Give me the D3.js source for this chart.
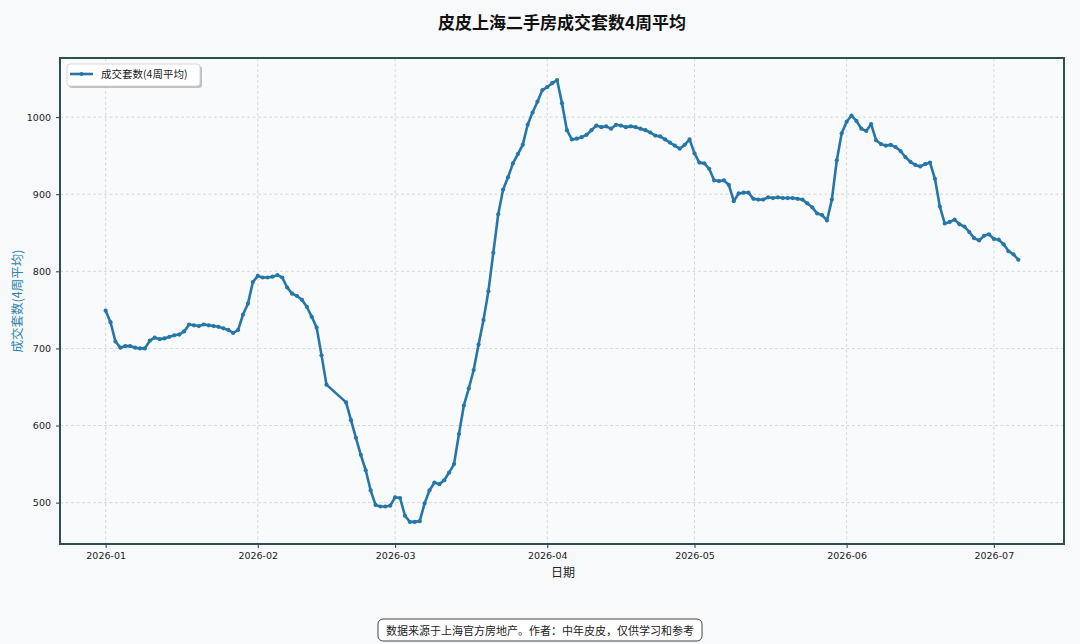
<!DOCTYPE html>
<html>
<head>
<meta charset="utf-8">
<script src="https://cdn.jsdelivr.net/npm/d3@7"></script>
<style>
  html, body { margin: 0; padding: 0; background: #f7f9fb; }
  svg { display: block; }
</style>
</head>
<body>
<svg id="chart" width="1080" height="644"></svg>
<script>
// ---- data ----
const title = "皮皮上海二手房成交套数4周平均";
const seriesName = "成交套数(4周平均)";
const yLabel = "成交套数(4周平均)";
const xLabel = "日期";
const footnote = "数据来源于上海官方房地产。作者：中年皮皮，仅供学习和参考";

const janDays = [1,2,3,4,5,6,7,8,9,10,11,12,13,14,15,16,17,18,19,20,21,22,23,24,25,26,27,28,29,30,31];
const janValues = [749,734,709,701,703,703,701,700,700,710,714,712,713,715,717,718,722,731,730,729,731,730,729,728,726,724,720,724,744,758,786];
const febDays = [1,2,3,4,5,6,7,8,9,10,11,12,13,14,15,19,20,21,22,23,24,25,26,27,28];
const febValues = [794,792,792,793,795,792,779,771,768,763,754,741,727,691,653,630,607,584,562,542,516,497,495,495,496];
const marDays = [1,2,3,4,5,6,7,8,9,10,11,12,13,14,15,16,17,18,19,20,21,22,23,24,25,26,27,28,29,30,31];
const marValues = [507,506,483,475,475,476,499,516,526,524,529,539,550,589,626,648,672,705,737,774,824,874,906,922,940,952,964,990,1006,1020,1035];
const aprDays = [1,2,3,4,5,6,7,8,9,10,11,12,13,14,15,16,17,18,19,20,21,22,23,24,25,26,27,28,29,30];
const aprValues = [1039,1044,1048,1018,983,971,972,974,977,983,989,987,988,985,990,989,987,988,987,985,983,980,976,975,971,967,963,959,964,971];
const mayDays = [1,2,3,4,5,6,7,8,9,10,11,12,13,14,15,16,17,18,19,20,21,22,23,24,25,26,27,28,29,30,31];
const mayValues = [953,941,940,933,918,917,918,912,891,901,902,902,894,893,893,896,895,896,895,895,895,894,893,888,883,875,873,866,893,944,979];
const junDays = [1,2,3,4,5,6,7,8,9,10,11,12,13,14,15,16,17,18,19,20,21,22,23,24,25,26,27,28,29,30];
const junValues = [994,1002,995,985,982,991,970,965,963,964,961,956,948,942,938,936,939,941,920,884,862,864,867,861,858,851,843,840,846,848];
const julDays = [1,2,3,4,5,6];
const julValues = [842,841,835,826,822,815];

const yTicks = [500,600,700,800,900,1000];
const xTickMonths = ["2026-01","2026-02","2026-03","2026-04","2026-05","2026-06","2026-07"];

// ---- build points ----
const months = [
  [1, janDays, janValues], [2, febDays, febValues], [3, marDays, marValues],
  [4, aprDays, aprValues], [5, mayDays, mayValues], [6, junDays, junValues],
  [7, julDays, julValues]
];
const points = [];
months.forEach(([m, days, vals]) => {
  days.forEach((d, i) => points.push({ date: new Date(Date.UTC(2026, m - 1, d)), value: vals[i] }));
});

// ---- layout ----
const svg = d3.select("#chart");
const W = 1080, H = 644;
const plot = { left: 60, right: 1064, top: 58, bottom: 544 };
const lineColor = "#2677a8";
const frameColor = "#2f4f4f";
const cjk = "'Noto Sans CJK SC', 'Noto Sans', sans-serif";
const latin = "'DejaVu Sans', 'Noto Sans', sans-serif";

svg.append("rect").attr("width", W).attr("height", H).attr("fill", "#f7f9fb");

// scales with matplotlib-like 5% margins
const tExt = d3.extent(points, p => p.date.getTime());
const tPad = (tExt[1] - tExt[0]) * 0.05;
const x = d3.scaleUtc()
  .domain([new Date(tExt[0] - tPad), new Date(tExt[1] + tPad)])
  .range([plot.left, plot.right]);
const vExt = d3.extent(points, p => p.value);
const vPad = (vExt[1] - vExt[0]) * 0.05;
const y = d3.scaleLinear()
  .domain([vExt[0] - vPad, vExt[1] + vPad])
  .range([plot.bottom, plot.top]);

const tickDates = xTickMonths.map(s => { const [yy, mm] = s.split("-").map(Number); return new Date(Date.UTC(yy, mm - 1, 1)); });

// plot background
svg.append("rect")
  .attr("x", plot.left).attr("y", plot.top)
  .attr("width", plot.right - plot.left).attr("height", plot.bottom - plot.top)
  .attr("fill", "#f8fafc");

// grid
const grid = svg.append("g");
grid.selectAll("line.gx").data(tickDates).join("line")
  .attr("x1", d => x(d)).attr("x2", d => x(d))
  .attr("y1", plot.top).attr("y2", plot.bottom)
  .attr("stroke", "#bcc0c4").attr("stroke-width", 0.8).attr("stroke-dasharray", "3,2.5").attr("opacity", 0.75);
grid.selectAll("line.gy").data(yTicks).join("line")
  .attr("x1", plot.left).attr("x2", plot.right)
  .attr("y1", d => y(d)).attr("y2", d => y(d))
  .attr("stroke", "#bcc0c4").attr("stroke-width", 0.8).attr("stroke-dasharray", "3,2.5").attr("opacity", 0.75);

// axes
const xAxis = d3.axisBottom(x).tickValues(tickDates).tickFormat(d3.utcFormat("%Y-%m")).tickSize(4).tickPadding(4);
const gx = svg.append("g").attr("transform", `translate(0,${plot.bottom})`).call(xAxis);
gx.select(".domain").remove();
gx.selectAll("line").attr("stroke", "#333");
gx.selectAll("text").attr("font-family", latin).attr("font-size", 9.5).attr("fill", "#222");

const yAxis = d3.axisLeft(y).tickValues(yTicks).tickFormat(d3.format("d")).tickSize(4).tickPadding(5);
const gy = svg.append("g").attr("transform", `translate(${plot.left},0)`).call(yAxis);
gy.select(".domain").remove();
gy.selectAll("line").attr("stroke", "#333");
gy.selectAll("text").attr("font-family", latin).attr("font-size", 9.5).attr("fill", "#222");

// line + markers
const line = d3.line().x(p => x(p.date)).y(p => y(p.value));
svg.append("path").datum(points)
  .attr("d", line).attr("fill", "none")
  .attr("stroke", lineColor).attr("stroke-width", 2.6)
  .attr("stroke-linejoin", "round").attr("stroke-linecap", "round");
svg.append("g").selectAll("circle").data(points).join("circle")
  .attr("cx", p => x(p.date)).attr("cy", p => y(p.value))
  .attr("r", 2.1).attr("fill", lineColor);

// frame
svg.append("rect")
  .attr("x", plot.left).attr("y", plot.top)
  .attr("width", plot.right - plot.left).attr("height", plot.bottom - plot.top)
  .attr("fill", "none").attr("stroke", frameColor).attr("stroke-width", 2);

// title
svg.append("text").attr("x", 562).attr("y", 29).attr("text-anchor", "middle")
  .attr("font-family", cjk).attr("font-weight", "bold").attr("font-size", 17).attr("fill", "#111")
  .text(title);

// axis labels
svg.append("text").attr("x", 563).attr("y", 577).attr("text-anchor", "middle")
  .attr("font-family", cjk).attr("font-size", 12).attr("fill", "#222").text(xLabel);
svg.append("text").attr("transform", "translate(22,301) rotate(-90)").attr("text-anchor", "middle")
  .attr("font-family", cjk).attr("font-size", 12.5).attr("fill", "#2e86ab").text(yLabel);

// legend
const lg = svg.append("g");
lg.append("rect").attr("x", 69).attr("y", 66).attr("width", 133).attr("height", 22).attr("rx", 3)
  .attr("fill", "#9a9a9a").attr("opacity", 0.6);
lg.append("rect").attr("x", 67).attr("y", 64).attr("width", 133).attr("height", 22).attr("rx", 3)
  .attr("fill", "#ffffff").attr("stroke", "#cfcfcf").attr("stroke-width", 0.8);
lg.append("line").attr("x1", 70).attr("x2", 93).attr("y1", 74).attr("y2", 74)
  .attr("stroke", lineColor).attr("stroke-width", 2.6);
lg.append("circle").attr("cx", 81.5).attr("cy", 74).attr("r", 2.1).attr("fill", lineColor);
lg.append("text").attr("x", 101).attr("y", 78).attr("font-family", cjk).attr("font-size", 10.5).attr("fill", "#222")
  .text(seriesName);

// footnote box
const fn = svg.append("g");
fn.append("rect").attr("x", 378).attr("y", 619).attr("width", 324).attr("height", 22).attr("rx", 5)
  .attr("fill", "#ffffff").attr("stroke", "#444").attr("stroke-width", 1);
fn.append("text").attr("x", 540).attr("y", 634.5).attr("text-anchor", "middle")
  .attr("font-family", cjk).attr("font-size", 11).attr("fill", "#222").text(footnote);
</script>
</body>
</html>
